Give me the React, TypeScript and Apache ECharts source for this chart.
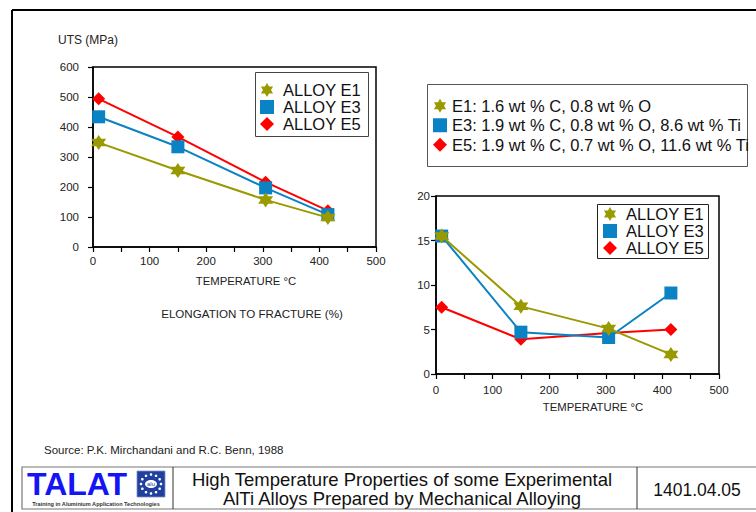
import React, { useEffect, useRef } from "react";
import * as echarts from "echarts";

const temps = [10, 150, 305, 415];
const utsE1 = [348, 255, 157, 98];
const utsE3 = [434, 334, 197, 108];
const utsE5 = [494, 367, 216, 121];
const elE1 = [15.5, 7.6, 5.1, 2.2];
const elE3 = [15.5, 4.7, 4.1, 9.1];
const elE5 = [7.5, 3.9, 4.6, 5.0];
const alloyNames = ["ALLOY E1", "ALLOY E3", "ALLOY E5"];
const compNames = [
  "E1: 1.6 wt % C, 0.8 wt % O",
  "E3: 1.9 wt % C, 0.8 wt % O, 8.6 wt % Ti",
  "E5: 1.9 wt % C, 0.7 wt % O, 11.6 wt % Ti",
];
const xTicks = { min: 0, max: 500, interval: 50 };
const utsAxis = { min: 0, max: 600, interval: 100 };
const elAxis = { min: 0, max: 20, interval: 5 };

const FONT = 'Arial, "Liberation Sans", Helvetica, sans-serif';
const C1 = "#999900";
const C3 = "#0a82c4";
const C5 = "#ff0000";
const STAR =
  "path://M10 0L12.89 5L18.66 5L15.77 10L18.66 15L12.89 15L10 20L7.11 15L1.34 15L4.23 10L1.34 5L7.11 5Z";
const symbols = [STAR, "rect", "diamond"];
const colors = [C1, C3, C5];
const symSizes = [15, 13, 13];

function pts(vals: number[]) {
  return temps.map((t, i) => [t, vals[i]]);
}

export default function App() {
  const ref = useRef<HTMLDivElement>(null);
  useEffect(() => {
    document.body.style.margin = "0";
    const chart = echarts.init(ref.current!, null, { renderer: "svg" });

    const xAxisCommon = (gridIndex: number, margin: number) => ({
      type: "value",
      gridIndex,
      ...xTicks,
      axisLine: { show: true, lineStyle: { color: "#000", width: 1.5 } },
      axisTick: { show: true, inside: false, length: 5, lineStyle: { color: "#000", width: 1.2 } },
      axisLabel: {
        color: "#222",
        fontSize: 11.5,
        fontFamily: FONT,
        margin,
        formatter: (v: number) => (v % 100 === 0 ? String(v) : ""),
      },
      splitLine: { show: false },
    });
    const yAxisCommon = (gridIndex: number, ax: any, margin: number) => ({
      type: "value",
      gridIndex,
      ...ax,
      axisLine: { show: true, lineStyle: { color: "#000", width: 1.5 } },
      axisTick: { show: true, inside: false, length: 5, lineStyle: { color: "#000", width: 1.2 } },
      axisLabel: { color: "#222", fontSize: 11.5, fontFamily: FONT, margin },
      splitLine: { show: false },
    });

    const mkSeries = (name: string, vals: number[], idx: number, k: number) => ({
      type: "line",
      name,
      xAxisIndex: idx,
      yAxisIndex: idx,
      data: pts(vals),
      symbol: symbols[k],
      symbolSize: symSizes[k],
      lineStyle: { color: colors[k], width: 2 },
      itemStyle: { color: colors[k] },
      z: 3 + (k === 0 ? 2 : k === 1 ? 1 : 0),
    });

    const legendData = (names: string[]) =>
      names.map((n, k) => ({ name: n, icon: symbols[k], itemStyle: { color: colors[k] } }));

    const series: any[] = [
      mkSeries(alloyNames[0], utsE1, 0, 0),
      mkSeries(alloyNames[1], utsE3, 0, 1),
      mkSeries(alloyNames[2], utsE5, 0, 2),
      mkSeries(alloyNames[0], elE1, 1, 0),
      mkSeries(alloyNames[1], elE3, 1, 1),
      mkSeries(alloyNames[2], elE5, 1, 2),
    ];
    compNames.forEach((n, k) => {
      series.push({
        type: "line",
        name: n,
        xAxisIndex: 1,
        yAxisIndex: 1,
        data: [],
        symbol: symbols[k],
        itemStyle: { color: colors[k] },
        lineStyle: { color: colors[k] },
      });
    });

    const legendCommon = {
      orient: "vertical",
      padding: 0,
      itemWidth: 14,
      itemHeight: 14,
      itemGap: 0,
      selectedMode: false,
      backgroundColor: "transparent",
    };

    const graphic: any[] = [
      // outer frame
      { type: "line", shape: { x1: 12, y1: 10, x2: 760, y2: 10 }, style: { stroke: "#000", lineWidth: 2 } },
      { type: "line", shape: { x1: 12, y1: 10, x2: 12, y2: 520 }, style: { stroke: "#000", lineWidth: 2 } },
      // legend boxes
      { type: "rect", shape: { x: 255.5, y: 72.5, width: 113, height: 64 }, style: { fill: "#fff", stroke: "#444", lineWidth: 1 }, z: -1 },
      { type: "rect", shape: { x: 427.5, y: 84.5, width: 320, height: 82 }, style: { fill: "#fff", stroke: "#555", lineWidth: 1 }, z: -1 },
      { type: "rect", shape: { x: 597.5, y: 204.5, width: 111, height: 54 }, style: { fill: "#fff", stroke: "#222", lineWidth: 1 }, z: 2 },
      // axis names
      { type: "text", x: 58, y: 34, style: { text: "UTS (MPa)", fontSize: 12, fontFamily: FONT, fill: "#222" } },
      { type: "text", x: 246, y: 281, style: { text: "TEMPERATURE °C", fontSize: 11.3, fontFamily: FONT, fill: "#222", align: "center", verticalAlign: "middle" } },
      { type: "text", x: 252, y: 313, style: { text: "ELONGATION TO FRACTURE (%)", fontSize: 11.6, fontFamily: FONT, fill: "#222", align: "center", verticalAlign: "middle" } },
      { type: "text", x: 593, y: 407, style: { text: "TEMPERATURE °C", fontSize: 11.3, fontFamily: FONT, fill: "#222", align: "center", verticalAlign: "middle" } },
      // source
      { type: "text", x: 44, y: 450, style: { text: "Source: P.K. Mirchandani and R.C. Benn, 1988", fontSize: 11.5, fontFamily: FONT, fill: "#222", verticalAlign: "middle" } },
      // footer box
      { type: "rect", shape: { x: 22, y: 467, width: 760, height: 42 }, style: { fill: "none", stroke: "#777", lineWidth: 1.2 } },
      { type: "line", shape: { x1: 173, y1: 467, x2: 173, y2: 509 }, style: { stroke: "#333", lineWidth: 1 } },
      { type: "line", shape: { x1: 637, y1: 467, x2: 637, y2: 509 }, style: { stroke: "#333", lineWidth: 1 } },
      {
        type: "text",
        x: 402,
        y: 489,
        style: {
          text: "High Temperature Properties of some Experimental\nAlTi Alloys Prepared by Mechanical Alloying",
          fontSize: 18.5,
          lineHeight: 19,
          fontFamily: FONT,
          fill: "#111",
          align: "center",
          verticalAlign: "middle",
        },
      },
      { type: "text", x: 697, y: 490, style: { text: "1401.04.05", fontSize: 17.5, fontFamily: FONT, fill: "#111", align: "center", verticalAlign: "middle" } },
      // TALAT logo
      { type: "text", x: 27, y: 484, style: { text: "TALAT", fontSize: 32, fontWeight: "bold", fontFamily: FONT, fill: "#1414f5", verticalAlign: "middle" } },
      { type: "text", x: 96, y: 503.5, style: { text: "Training in Aluminium Application Technologies", fontSize: 5.6, fontWeight: "bold", fontFamily: FONT, fill: "#333", align: "center", verticalAlign: "middle" } },
      { type: "rect", shape: { x: 137, y: 471, width: 28, height: 26 }, style: { fill: "#2040a0", stroke: "#8090c0", lineWidth: 0.8 } },
      { type: "ellipse", shape: { cx: 151, cy: 484, rx: 6, ry: 4 }, style: { fill: "#fff" } },
      { type: "text", x: 151, y: 484, style: { text: "alu", fontSize: 6, fontFamily: FONT, fill: "#2040a0", align: "center", verticalAlign: "middle" } },
    ];
    for (let i = 0; i < 12; i++) {
      const a = (i / 12) * Math.PI * 2;
      graphic.push({
        type: "circle",
        shape: { cx: 151 + Math.cos(a) * 10, cy: 484 + Math.sin(a) * 9.5, r: 1.3 },
        style: { fill: "#fff" },
      });
    }

    chart.setOption({
      animation: false,
      backgroundColor: "#fff",
      grid: [
        { left: 93, top: 67, width: 283, height: 180, show: true, borderColor: "#000", borderWidth: 1.5, backgroundColor: "transparent" },
        { left: 436, top: 196, width: 283, height: 178, show: true, borderColor: "#000", borderWidth: 1.5, backgroundColor: "transparent" },
      ],
      xAxis: [xAxisCommon(0, 8), xAxisCommon(1, 10)],
      yAxis: [yAxisCommon(0, utsAxis, 14), yAxisCommon(1, elAxis, 6)],
      legend: [
        {
          ...legendCommon,
          left: 260,
          top: 81.5,
          data: legendData(alloyNames),
          textStyle: { fontSize: 16.5, fontFamily: FONT, color: "#111", lineHeight: 17, padding: [0, 0, 0, 4] },
        },
        {
          ...legendCommon,
          left: 433,
          top: 96,
          data: legendData(compNames),
          textStyle: { fontSize: 16.5, fontFamily: FONT, color: "#111", lineHeight: 19.5 },
        },
        {
          ...legendCommon,
          left: 603,
          top: 205.5,
          z: 5,
          data: legendData(alloyNames),
          textStyle: { fontSize: 16.5, fontFamily: FONT, color: "#111", lineHeight: 17, padding: [0, 0, 0, 4] },
        },
      ],
      series,
      graphic,
    });
    return () => chart.dispose();
  }, []);
  return <div ref={ref} style={{ position: "fixed", left: 0, top: 0, width: 756, height: 512 }} />;
}
